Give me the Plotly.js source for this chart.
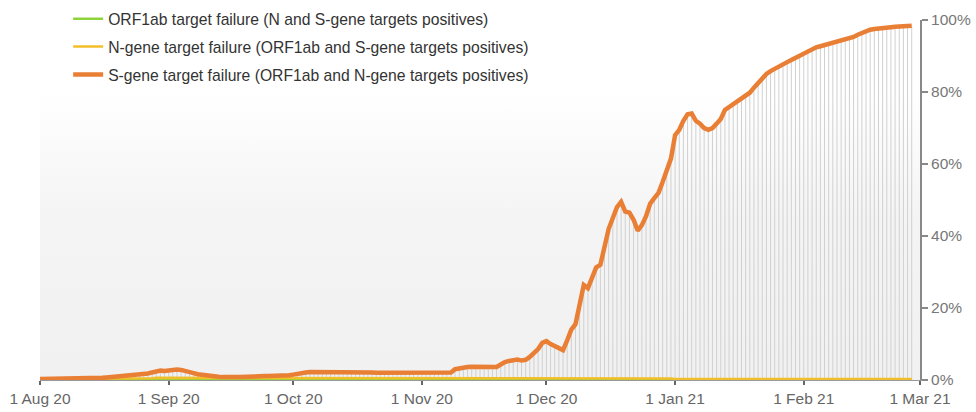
<!DOCTYPE html>
<html>
<head>
<meta charset="utf-8">
<script src="https://cdn.plot.ly/plotly-3.0.1.min.js"></script>
<style>
  html, body { margin: 0; padding: 0; background: #ffffff; }
  #chart { width: 976px; height: 412px; }
</style>
</head>
<body>
<div id="chart"></div>
<script>
// First day of the daily series and the axis range
const startDate = '2020-08-01';
const rangeStart = '2020-08-01';
const rangeEnd = '2021-03-01';

// S-gene target failure (%) — daily, from 1 Aug 2020
const sAug = [0.3,0.3,0.3,0.3,0.3,0.3,0.3,0.3,0.3,0.4,0.4,0.4,0.4,0.5,0.5,
              0.6,0.7,0.8,0.9,1.0,1.0,1.1,1.2,1.2,1.5,1.7,1.8,2.1,2.5,2.6,2.5];
const sSep = [2.6,3.0,2.9,2.8,2.6,2.3,1.9,1.6,1.4,1.2,1.1,1.0,0.9,0.8,0.7,
              0.7,0.8,0.8,0.9,0.9,1.0,1.0,1.0,1.1,1.1,1.1,1.2,1.2,1.2,1.3];
const sOct = [1.5,1.8,2.0,2.1,2.2,2.2,2.2,2.3,2.3,2.3,2.3,2.3,2.3,2.4,2.3,
              2.3,2.2,2.2,2.1,2.1,2.0,2.0,2.0,2.0,1.9,1.9,1.9,1.9,1.9,1.8,1.9];
const sNov = [1.9,1.9,1.8,1.9,1.9,2.0,2.0,2.1,3.0,3.3,3.5,3.6,3.7,3.7,3.6,
              3.5,3.5,3.5,3.6,4.3,5.0,5.3,5.6,5.7,5.4,5.6,6.4,7.5,8.6,10.3];
const sDec = [10.8,10.0,9.4,9.0,8.3,11.0,14.0,15.5,21.0,26.4,25.5,28.5,31.3,32.0,37.5,
              42.0,45.0,48.0,49.5,46.8,46.5,44.5,41.5,43.0,45.5,49.0,50.5,52.0,55.0,58.5,61.5];
const sJan = [68.0,69.5,72.0,73.8,74.0,72.0,71.2,70.0,69.5,70.0,71.2,72.5,75.0,75.8,76.3,
              77.2,78.2,79.0,79.8,81.2,82.5,84.0,85.0,85.8,86.5,87.2,87.8,88.3,88.9,89.5,90.3];
const sFeb = [90.8,91.4,92.0,92.4,92.7,93.0,93.4,93.8,94.0,94.3,94.5,94.8,95.3,95.9,
              96.4,96.9,97.3,97.5,97.7,97.8,97.9,98.0,98.1,98.2,98.5,98.6,98.4];

// N-gene target failure (%) — daily
const nAug = [0.3,0.3,0.3,0.3,0.3,0.3,0.3,0.3,0.3,0.3,0.3,0.3,0.3,0.3,0.3,
              0.3,0.3,0.3,0.4,0.4,0.4,0.4,0.4,0.4,0.5,0.5,0.5,0.5,0.6,0.6,0.6];
const nSep = [0.6,0.6,0.6,0.6,0.6,0.5,0.5,0.5,0.4,0.4,0.4,0.4,0.4,0.4,0.4,
              0.4,0.4,0.4,0.4,0.4,0.4,0.4,0.4,0.4,0.4,0.4,0.4,0.4,0.4,0.4];
const nOct = [0.4,0.4,0.4,0.4,0.4,0.4,0.4,0.4,0.4,0.4,0.4,0.4,0.4,0.4,0.4,
              0.4,0.4,0.4,0.4,0.4,0.4,0.4,0.4,0.4,0.4,0.4,0.4,0.4,0.4,0.4,0.4];
const nNov = [0.4,0.4,0.4,0.4,0.4,0.4,0.4,0.4,0.4,0.4,0.4,0.4,0.4,0.4,0.4,
              0.4,0.4,0.4,0.4,0.4,0.4,0.4,0.4,0.4,0.4,0.4,0.4,0.4,0.4,0.4];
const nDec = [0.4,0.4,0.4,0.4,0.4,0.4,0.4,0.4,0.4,0.4,0.4,0.4,0.4,0.4,0.4,
              0.4,0.4,0.4,0.4,0.4,0.4,0.4,0.4,0.4,0.4,0.4,0.4,0.4,0.4,0.4,0.4];
const nJan = [0.3,0.3,0.3,0.3,0.3,0.3,0.3,0.3,0.3,0.3,0.3,0.3,0.3,0.3,0.3,
              0.3,0.3,0.3,0.3,0.3,0.3,0.3,0.3,0.3,0.3,0.3,0.3,0.3,0.3,0.3,0.3];
const nFeb = [0.3,0.3,0.3,0.3,0.3,0.3,0.3,0.3,0.3,0.3,0.3,0.3,0.3,0.3,
              0.3,0.3,0.3,0.3,0.3,0.3,0.3,0.3,0.3,0.3,0.3,0.3,0.3];

// ORF1ab target failure (%) — daily
const oAug = [0.1,0.1,0.1,0.1,0.1,0.1,0.1,0.1,0.1,0.1,0.1,0.1,0.1,0.1,0.1,
              0.1,0.1,0.1,0.1,0.1,0.1,0.1,0.1,0.1,0.1,0.1,0.1,0.1,0.1,0.1,0.1];
const oSep = [0.1,0.1,0.1,0.1,0.1,0.1,0.1,0.1,0.1,0.1,0.1,0.1,0.1,0.1,0.1,
              0.1,0.1,0.1,0.1,0.1,0.1,0.1,0.1,0.1,0.1,0.1,0.1,0.1,0.1,0.1];
const oOct = [0.1,0.1,0.1,0.1,0.1,0.1,0.1,0.1,0.1,0.1,0.1,0.1,0.1,0.1,0.1,
              0.1,0.1,0.1,0.1,0.1,0.1,0.1,0.1,0.1,0.1,0.1,0.1,0.1,0.1,0.1,0.1];
const oNov = [0.1,0.1,0.1,0.1,0.1,0.1,0.1,0.1,0.1,0.1,0.1,0.1,0.1,0.1,0.1,
              0.1,0.1,0.1,0.1,0.1,0.1,0.1,0.1,0.1,0.1,0.1,0.1,0.1,0.1,0.1];
const oDec = [0.1,0.1,0.1,0.1,0.1,0.1,0.1,0.1,0.1,0.1,0.1,0.1,0.1,0.1,0.1,
              0.1,0.1,0.1,0.1,0.1,0.1,0.1,0.1,0.1,0.1,0.1,0.1,0.1,0.1,0.1,0.1];
const oJan = [0.2,0.2,0.2,0.2,0.2,0.2,0.2,0.2,0.2,0.2,0.2,0.2,0.2,0.2,0.2,
              0.2,0.2,0.2,0.2,0.2,0.2,0.2,0.2,0.2,0.2,0.2,0.2,0.2,0.2,0.2,0.2];
const oFeb = [0.2,0.2,0.2,0.2,0.2,0.2,0.2,0.2,0.2,0.2,0.2,0.2,0.2,0.2,
              0.2,0.2,0.2,0.2,0.2,0.2,0.2,0.2,0.2,0.2,0.2,0.2,0.2];

// Y axis ticks
const yTickVals = [0, 20, 40, 60, 80, 100];
const yTickText = ['0%', '20%', '40%', '60%', '80%', '100%'];

// Series names
const names = [
  'ORF1ab target failure (N and S-gene targets positives)',
  'N-gene target failure (ORF1ab and S-gene targets positives)',
  'S-gene target failure (ORF1ab and N-gene targets positives)'
];

const sVals = [].concat(sAug, sSep, sOct, sNov, sDec, sJan, sFeb);
const nVals = [].concat(nAug, nSep, nOct, nNov, nDec, nJan, nFeb);
const oVals = [].concat(oAug, oSep, oOct, oNov, oDec, oJan, oFeb);

// daily date labels
function dayStr(i) {
  const d = new Date(startDate + 'T00:00:00Z');
  d.setUTCDate(d.getUTCDate() + i);
  return d.toISOString().slice(0, 10);
}
const dates = sVals.map((_, i) => dayStr(i));

// drop lines from the S-gene curve to zero
const dropX = [], dropY = [];
dates.forEach((d, i) => { dropX.push(d, d, null); dropY.push(0, sVals[i], null); });

const traces = [
  { // background gradient
    x: [rangeStart, rangeEnd], y: [100, 100], type: 'scatter', mode: 'lines',
    line: { width: 0 }, fill: 'tozeroy',
    fillgradient: { type: 'vertical', start: 0, stop: 100,
      colorscale: [[0, '#f1f1f1'], [0.45, '#f4f4f4'], [0.8, '#ffffff'], [1, '#ffffff']] },
    showlegend: false, hoverinfo: 'skip'
  },
  {
    x: dropX, y: dropY, type: 'scatter', mode: 'lines',
    line: { color: '#d0d0d0', width: 1 }, showlegend: false, hoverinfo: 'skip'
  },
  {
    x: dates, y: oVals, name: names[0], type: 'scatter', mode: 'lines',
    line: { color: '#8ED33C', width: 2.5 }, legendgroup: 'a'
  },
  {
    x: dates, y: nVals, name: names[1], type: 'scatter', mode: 'lines',
    line: { color: '#F2BF2A', width: 2.5 }, legendgroup: 'b'
  },
  {
    x: dates, y: sVals, name: names[2], type: 'scatter', mode: 'lines',
    line: { color: '#E97E35', width: 4.5 }, legendgroup: 'c'
  }
];

const layout = {
  width: 976, height: 412,
  margin: { l: 40, r: 56, t: 20, b: 32, autoexpand: false },
  paper_bgcolor: '#ffffff', plot_bgcolor: 'rgba(0,0,0,0)',
  font: { family: 'Liberation Sans, Arial, sans-serif', size: 15.5, color: '#666666' },
  showlegend: true,
  legend: {
    x: 0.032, y: 1.05, xanchor: 'left', yanchor: 'top',
    bgcolor: 'rgba(255,255,255,0)', traceorder: 'grouped', tracegroupgap: 4.5,
    font: { size: 15.7, color: '#333333' }
  },
  xaxis: {
    type: 'date', range: [rangeStart, rangeEnd],
    tick0: rangeStart, dtick: 'M1', tickformat: '%-d %b %y',
    showgrid: false, zeroline: false, showline: true, linecolor: '#999999', linewidth: 1,
    ticks: 'outside', ticklen: 4, tickwidth: 2, tickcolor: '#666666',
    tickfont: { size: 15.5, color: '#666666' }, fixedrange: true
  },
  yaxis: {
    side: 'right', range: [0, 100], tickvals: yTickVals, ticktext: yTickText,
    showgrid: false, zeroline: false, showline: true, linecolor: '#888888', linewidth: 2,
    ticks: 'outside', ticklen: 6, tickwidth: 2, tickcolor: '#888888',
    tickfont: { size: 15.5, color: '#777777' }, fixedrange: true
  }
};

Plotly.newPlot('chart', traces, layout, { displayModeBar: false, staticPlot: true });
</script>
</body>
</html>
